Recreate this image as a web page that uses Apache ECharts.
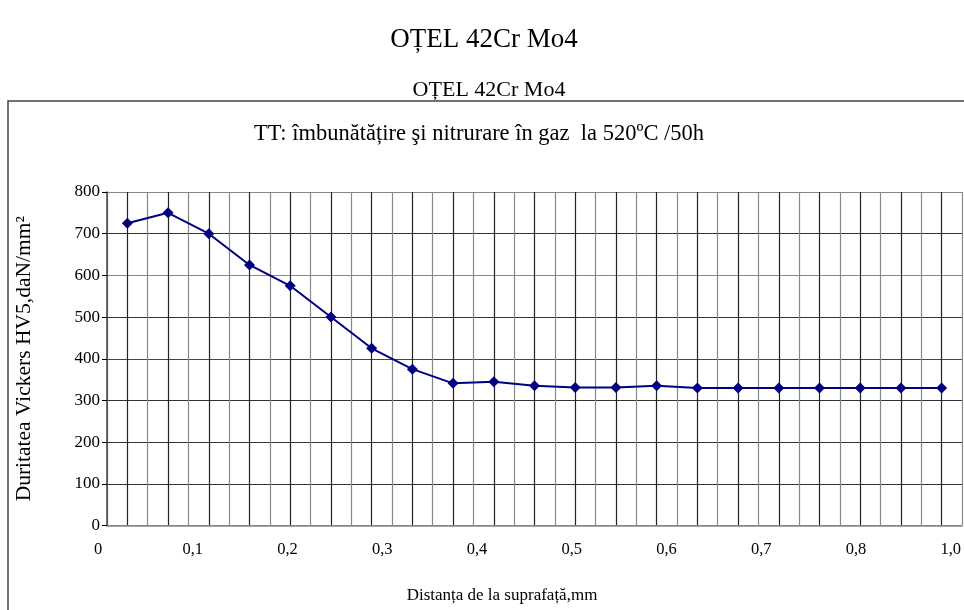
<!DOCTYPE html>
<html>
<head>
<meta charset="utf-8">
<script src="https://cdn.jsdelivr.net/npm/echarts@6/dist/echarts.min.js"></script>
<style>html,body{margin:0;padding:0;background:#fff}#c{width:964px;height:610px}</style>
</head>
<body>
<div id="c"></div>
<script>
// ---- data ----
var mainTitle = 'OȚEL 42Cr Mo4';
var chartTitle = 'OȚEL 42Cr Mo4';
var treatment = 'TT: îmbunătățire şi nitrurare în gaz  la 520ºC /50h';
var yName = 'Duritatea Vickers HV5,daN/mm²';
var xName = 'Distanța de la suprafață,mm';
var hardness = [725, 750, 700, 625, 575, 500, 425, 375, 341, 345, 335, 331, 331, 335, 330, 330, 330, 330, 330, 330, 330];
var xTickLabels = ['0', '0,1', '0,2', '0,3', '0,4', '0,5', '0,6', '0,7', '0,8', '1,0'];
var yTicks = [0, 100, 200, 300, 400, 500, 600, 700, 800];

var FONT = '"Liberation Serif", "DejaVu Serif", serif';
var points = hardness.map(function (v, i) { return [i + 1, v]; });

var chart = echarts.init(document.getElementById('c'));
chart.setOption({
  animation: false,
  backgroundColor: '#fff',
  textStyle: { fontFamily: FONT, color: '#000' },
  title: [
    { text: mainTitle, left: 479, top: 21, textAlign: 'center',
      textStyle: { fontFamily: FONT, fontSize: 27, fontWeight: 'normal', color: '#000' } },
    { text: chartTitle, left: 484, top: 74, textAlign: 'center',
      textStyle: { fontFamily: FONT, fontSize: 22, fontWeight: 'normal', color: '#000' } },
    { text: treatment, left: 474, top: 118, textAlign: 'center',
      textStyle: { fontFamily: FONT, fontSize: 22.5, fontWeight: 'normal', color: '#000' } },
    { text: xName, left: 497, top: 582, textAlign: 'center',
      textStyle: { fontFamily: FONT, fontSize: 17, fontWeight: 'normal', color: '#000' } }
  ],
  graphic: [
    { type: 'rect', z: -1, shape: { x: 8, y: 101, width: 980, height: 540 },
      style: { fill: 'none', stroke: '#444', lineWidth: 1.5 } }
  ],
  grid: [
    { left: 107, right: 2, top: 192, bottom: 84.5, containLabel: false },
    { left: 98, right: 9, top: 192, bottom: 84.5, containLabel: false }
  ],
  xAxis: [
    { type: 'value', gridIndex: 0, min: 0.5, max: hardness.length + 0.5, interval: 0.5,
      axisLine: { show: true, lineStyle: { color: '#888', width: 1.5 } },
      axisTick: { show: false }, axisLabel: { show: false },
      splitLine: { show: true, lineStyle: { color: ['#888', '#222'], width: 1.2 } } },
    { type: 'category', gridIndex: 1, data: xTickLabels, boundaryGap: false,
      axisLine: { show: false }, axisTick: { show: false }, splitLine: { show: false },
      axisLabel: { interval: 0, margin: 16, fontFamily: FONT, fontSize: 16.5, color: '#000' } }
  ],
  yAxis: [
    { type: 'value', gridIndex: 0, min: yTicks[0], max: yTicks[yTicks.length - 1], interval: 100,
      name: yName, nameLocation: 'middle', nameGap: 72, nameRotate: 90,
      nameTextStyle: { fontFamily: FONT, fontSize: 21.5, color: '#000' },
      axisLine: { show: true, lineStyle: { color: '#444', width: 1.5 } },
      axisTick: { show: true, inside: false, length: 5, lineStyle: { color: '#000' } },
      axisLabel: { margin: 7, fontFamily: FONT, fontSize: 17, color: '#000' },
      splitLine: { show: true, lineStyle: { color: ['#888', '#333', '#333', '#333', '#444', '#333', '#888', '#333', '#888'], width: 1.2 } } },
    { type: 'value', gridIndex: 1, show: false, min: 0, max: 800 }
  ],
  series: [
    { type: 'line', xAxisIndex: 0, yAxisIndex: 0, data: points,
      symbol: 'diamond', symbolSize: 11,
      lineStyle: { color: '#000080', width: 2 },
      itemStyle: { color: '#000080' } }
  ]
});
</script>
</body>
</html>
